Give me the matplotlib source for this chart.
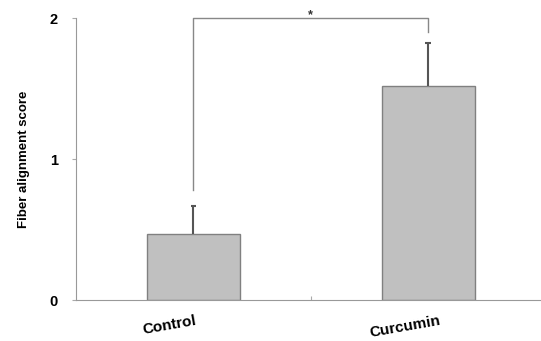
import matplotlib.pyplot as plt

categories = ['Control', 'Curcumin']
scores = [0.47, 1.52]
errors = [0.20, 0.30]
bracket_left = 0.78
bracket_right = 1.90
bracket_top = 2.0

plt.rcParams['font.family'] = ['Liberation Sans', 'DejaVu Sans']

fig = plt.figure(figsize=(5.41, 3.41), dpi=100)
ax = fig.add_axes([0.1405, 0.12, 0.8595, 0.827])

x = list(range(len(categories)))
ax.bar(x, scores, width=0.396, color='#c0c0c0', edgecolor='#808080', linewidth=1.0, zorder=2)

# upper error bars only, cap at the top
tops = [s + e for s, e in zip(scores, errors)]
ax.vlines(x, scores, tops, color='#555555', linewidth=1.5, zorder=3)
ax.hlines(tops, [i - 0.012 for i in x], [i + 0.012 for i in x],
          color='#555555', linewidth=1.5, zorder=3)

# significance bracket
ax.plot([0, 0, 1, 1], [bracket_left, bracket_top, bracket_top, bracket_right],
        color='#888888', linewidth=1.0, clip_on=False)
ax.text(0.5, bracket_top - 0.02, '*', ha='center', va='bottom', fontsize=9,
        fontweight='bold', color='#333333')

ax.set_xlim(-0.5, 1.48)
ax.set_ylim(0, 2)
ax.set_yticks([0, 1, 2])
ax.set_yticklabels(['0', '1', '2'], fontsize=10.5, fontweight='bold')
ax.set_xticks([0.5])
ax.set_xticklabels([''])
ax.tick_params(axis='x', direction='in', length=3, color='#aaaaaa')
ax.tick_params(axis='y', direction='out', length=3, color='#aaaaaa', pad=10)

for i, name in enumerate(categories):
    ax.text(i - 0.1, -0.1, name, ha='center', va='top', rotation=10,
            fontsize=11, fontweight='bold', transform=ax.transData)

ax.set_ylabel('Fiber alignment score', fontsize=9.5, fontweight='bold', labelpad=14)

for s in ['top', 'right']:
    ax.spines[s].set_visible(False)
ax.spines['left'].set_color('#999999')
ax.spines['bottom'].set_color('#999999')

plt.savefig('out.png', dpi=100)
